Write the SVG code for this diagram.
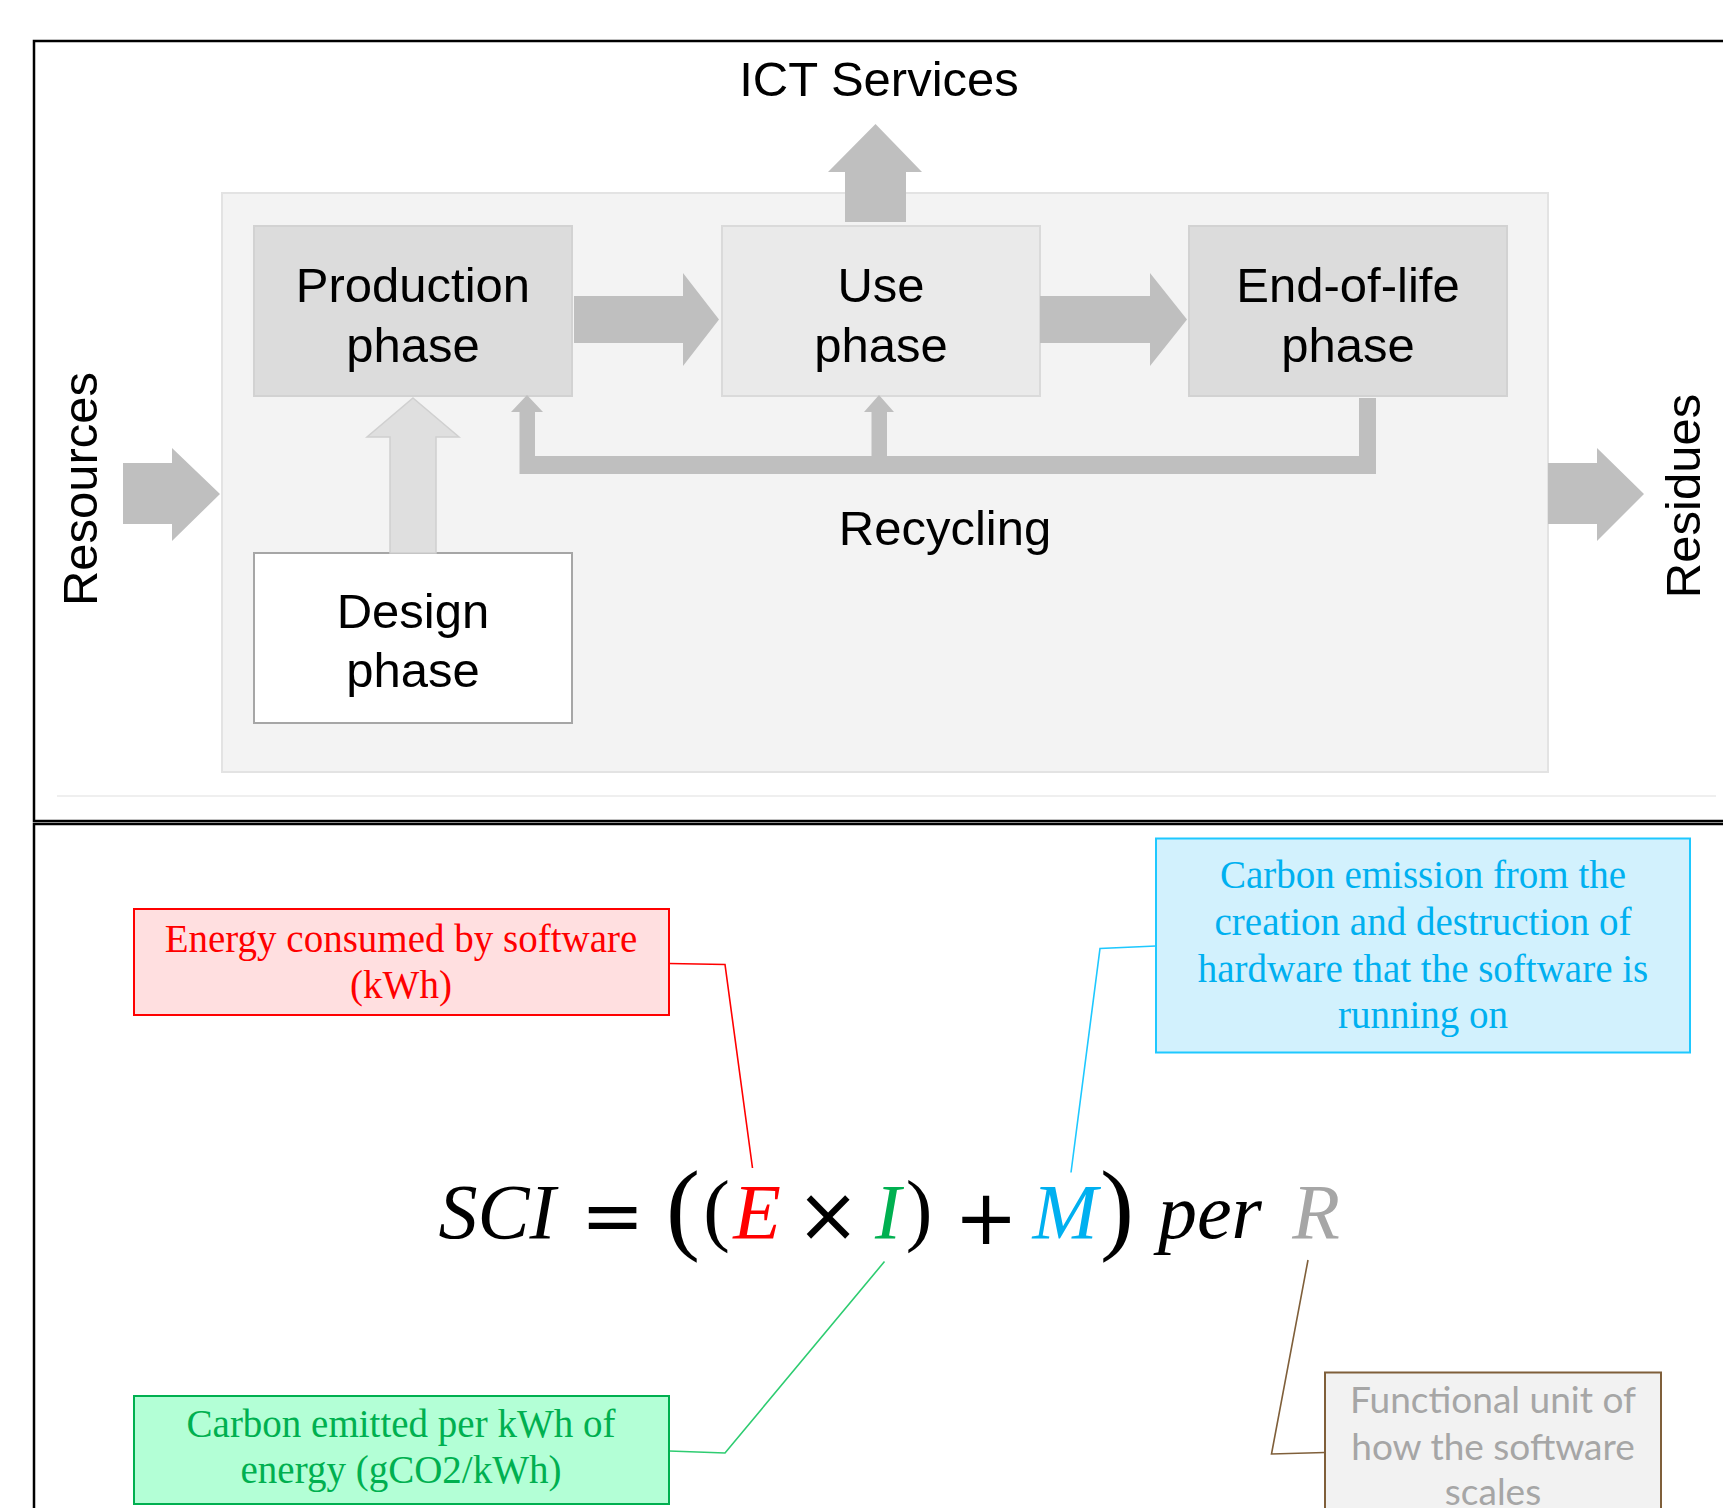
<svg xmlns="http://www.w3.org/2000/svg" width="1723" height="1508" viewBox="0 0 1723 1508">
  <style>
    .frame { fill: none; stroke: #000; stroke-width: 2.5; }
    .lbl { font-family: "Liberation Sans", Arial, sans-serif; font-size: 49px; fill: #000; text-anchor: middle; }
    .arrow { fill: #bfbfbf; }
    .serif { font-family: "Liberation Serif", "Times New Roman", serif; font-size: 39px; text-anchor: middle; }
    .math { font-family: "Liberation Serif", "Times New Roman", serif; font-size: 78px; font-style: italic; text-anchor: middle; }
    .op { font-family: "DejaVu Sans", sans-serif; font-size: 76px; text-anchor: middle; fill: #000; }
    .paren { font-family: "Liberation Serif", "Times New Roman", serif; text-anchor: middle; fill: #000; }
    .lead { fill: none; stroke-width: 1.6; }
  </style>

  <rect width="1723" height="1508" fill="#fff"/>

  <!-- panel frames -->
  <rect class="frame" x="34" y="41" width="1720" height="780"/>
  <rect class="frame" x="34" y="824" width="1720" height="720"/>
  <line x1="57" y1="796" x2="1716" y2="796" stroke="#efefef" stroke-width="2"/>

  <!-- life-cycle container -->
  <g id="lifecycle">
    <rect x="222" y="193" width="1326" height="579" fill="#f3f3f3" stroke="#e3e3e3" stroke-width="2"/>
  </g>

  <g id="ict-services">
    <text class="lbl" x="879" y="96">ICT Services</text>
  </g>

  <g id="production">
    <rect x="254" y="226" width="318" height="170" fill="#dcdcdc" stroke="#d2d2d2" stroke-width="2"/>
    <text class="lbl" x="413" y="302">Production</text>
    <text class="lbl" x="413" y="362">phase</text>
  </g>

  <g id="use">
    <rect x="722" y="226" width="318" height="170" fill="#eaeaea" stroke="#dadada" stroke-width="2"/>
    <text class="lbl" x="881" y="302">Use</text>
    <text class="lbl" x="881" y="362">phase</text>
  </g>

  <g id="end-of-life">
    <rect x="1189" y="226" width="318" height="170" fill="#dcdcdc" stroke="#d2d2d2" stroke-width="2"/>
    <text class="lbl" x="1348" y="302">End-of-life</text>
    <text class="lbl" x="1348" y="362">phase</text>
  </g>

  <g id="design">
    <rect x="254" y="553" width="318" height="170" fill="#fff" stroke="#a6a6a6" stroke-width="2"/>
    <text class="lbl" x="413" y="628">Design</text>
    <text class="lbl" x="413" y="687">phase</text>
  </g>

  <g id="resources">
    <text class="lbl" transform="translate(97,489) rotate(-90)">Resources</text>
  </g>

  <g id="residues">
    <text class="lbl" transform="translate(1700,496) rotate(-90)">Residues</text>
  </g>

  <g id="recycling">
    <text class="lbl" x="945" y="545">Recycling</text>
  </g>

  <!-- flows of the life-cycle -->
  <g id="connectors">
    <polygon class="arrow" points="875.5,124 922,172 906,172 906,222 845,222 845,172 828,172"/>
    <polygon class="arrow" points="574,296 683,296 683,273 719,319.5 683,366 683,343 574,343"/>
    <polygon class="arrow" points="1040,296 1150,296 1150,273 1187,319.5 1150,366 1150,343 1040,343"/>
    <polygon class="arrow" points="123,463 172,463 172,448 220,494 172,541 172,524 123,524"/>
    <polygon class="arrow" points="1548,463 1597,463 1597,448 1644,494 1597,541 1597,524 1548,524"/>
    <polygon points="413,398 459,437 436,437 436,553 390,553 390,437 367,437" fill="#dfdfdf" stroke="#d0d0d0" stroke-width="1.5"/>
    <polygon class="arrow" points="1359,398 1376,398 1376,474 519.5,474 519.5,412 511,412 527,395 543,412 535,412 535,456 871.5,456 871.5,412 864,412 879,395 894,412 887,412 887,456 1359,456"/>

    <!-- leader lines of the formula annotations -->
    <polyline class="lead" stroke="#ff0000" points="669,963.5 725,964.5 752.5,1168"/>
    <polyline class="lead" stroke="#1ec8ff" points="1156,946 1100,948.5 1071,1172.5"/>
    <polyline class="lead" stroke="#2ecc71" points="669,1451 725,1453 884.5,1261.5"/>
    <polyline class="lead" stroke="#7f5f3a" points="1325,1452.5 1271.5,1454 1308,1260"/>
  </g>

  <g id="energy">
    <rect x="134" y="909" width="535" height="106" fill="#ffdfe0" stroke="#ff0000" stroke-width="2"/>
    <text class="serif" x="401" y="952" fill="#ff0000">Energy consumed by software</text>
    <text class="serif" x="401" y="998" fill="#ff0000">(kWh)</text>
  </g>

  <g id="embodied">
    <rect x="1156" y="838.5" width="534" height="214" fill="#d2f1fd" stroke="#1ec8ff" stroke-width="2"/>
    <text class="serif" x="1423" y="888" fill="#00b0f0">Carbon emission from the</text>
    <text class="serif" x="1423" y="935" fill="#00b0f0">creation and destruction of</text>
    <text class="serif" x="1423" y="981.5" fill="#00b0f0">hardware that the software is</text>
    <text class="serif" x="1423" y="1028" fill="#00b0f0">running on</text>
  </g>

  <g id="intensity">
    <rect x="134" y="1396" width="535" height="108" fill="#b3ffd6" stroke="#00b050" stroke-width="2"/>
    <text class="serif" x="401" y="1437" fill="#00b050">Carbon emitted per kWh of</text>
    <text class="serif" x="401" y="1483" fill="#00b050">energy (gCO2/kWh)</text>
  </g>

  <g id="functional-unit">
    <rect x="1325" y="1372.5" width="336" height="180" fill="#f2f2f2" stroke="#7f5f3a" stroke-width="2"/>
    <text x="1493" y="1413" font-family="Lato, 'Open Sans', sans-serif" font-size="37" fill="#a6a6a6" text-anchor="middle">Functional unit of</text>
    <text x="1493" y="1460" font-family="Lato, 'Open Sans', sans-serif" font-size="37" fill="#a6a6a6" text-anchor="middle">how the software</text>
    <text x="1493" y="1505" font-family="Lato, 'Open Sans', sans-serif" font-size="37" fill="#a6a6a6" text-anchor="middle">scales</text>
  </g>

  <g id="formula">
    <text class="math" x="497" y="1238" fill="#000">SCI</text>
    <text class="op" x="612.5" y="1242">=</text>
    <text class="paren" x="683" y="1241" font-size="102">(</text>
    <text class="paren" x="716.5" y="1236" font-size="80">(</text>
    <text class="math" x="757" y="1238" fill="#ff0000">E</text>
    <text class="op" x="828" y="1241">×</text>
    <text class="math" x="888" y="1238" fill="#00b050">I</text>
    <text class="paren" x="919" y="1236" font-size="80">)</text>
    <text class="op" x="986" y="1244">+</text>
    <text class="math" x="1065" y="1238" fill="#00b0f0">M</text>
    <text class="paren" x="1117" y="1241" font-size="102">)</text>
    <text class="math" x="1210" y="1238" fill="#000">per</text>
    <text class="math" x="1316" y="1238" fill="#a6a6a6">R</text>
  </g>
</svg>
